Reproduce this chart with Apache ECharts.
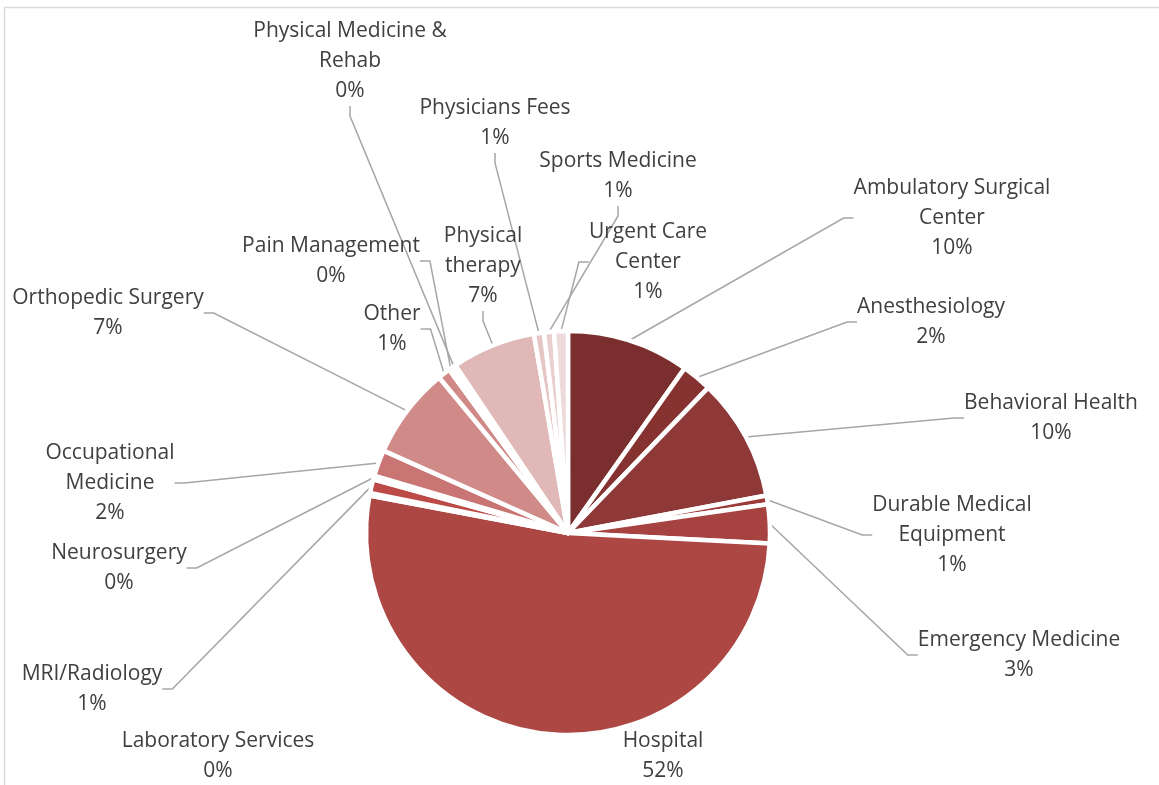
<!DOCTYPE html>
<html>
<head>
<meta charset="utf-8">
<script src="https://cdn.jsdelivr.net/npm/echarts@6/dist/echarts.min.js"></script>
<style>
  html, body { margin: 0; padding: 0; background: #fff; }
  #chart { width: 1159px; height: 785px; }
</style>
</head>
<body>
<div id="chart"></div>
<script>
// categories, clockwise from 12 o'clock
const categories = [
  'Ambulatory Surgical Center', 'Anesthesiology', 'Behavioral Health',
  'Durable Medical Equipment', 'Emergency Medicine', 'Hospital',
  'Laboratory Services', 'MRI/Radiology', 'Neurosurgery',
  'Occupational Medicine', 'Orthopedic Surgery', 'Other',
  'Pain Management', 'Physical Medicine & Rehab', 'Physical therapy',
  'Physicians Fees', 'Sports Medicine', 'Urgent Care Center'
];
// share of total (percent)
const shares = [9.8, 2.4, 9.8, 0.7, 3.1, 52.1, 0.2, 1.1, 0.3, 2.1, 7.3, 1.0, 0.3, 0.3, 6.7, 0.8, 0.8, 1.1];

const colors = [
  '#7b2e2e', '#853230', '#8e3838', '#9c3c3a', '#a64341', '#ad4744',
  '#b44a46', '#bc4b47', '#c46765', '#c97573', '#d08a88', '#d08986',
  '#d59896', '#daa5a4', '#e0b8b7', '#e5c6c5', '#e9d0cf', '#eddada'
];

// how label text wraps, like the original
const wrapped = {
  'Ambulatory Surgical Center': 'Ambulatory Surgical\nCenter',
  'Durable Medical Equipment': 'Durable Medical\nEquipment',
  'Occupational Medicine': 'Occupational\nMedicine',
  'Physical Medicine & Rehab': 'Physical Medicine &\nRehab',
  'Physical therapy': 'Physical\ntherapy',
  'Urgent Care Center': 'Urgent Care\nCenter'
};

// label block centres (layout only)
const labelAt = {
  'Ambulatory Surgical Center': [952, 218],
  'Anesthesiology': [931, 322],
  'Behavioral Health': [1051, 418],
  'Durable Medical Equipment': [952, 535],
  'Emergency Medicine': [1019, 655],
  'Hospital': [663, 756],
  'Laboratory Services': [218, 756],
  'MRI/Radiology': [92, 689],
  'Neurosurgery': [119, 568],
  'Occupational Medicine': [110, 483],
  'Orthopedic Surgery': [108, 313],
  'Other': [392, 329],
  'Pain Management': [331, 261],
  'Physical Medicine & Rehab': [350, 61],
  'Physical therapy': [483, 266],
  'Physicians Fees': [495, 123],
  'Sports Medicine': [618, 176],
  'Urgent Care Center': [648, 262]
};
const noLine = ['Hospital', 'Laboratory Services'];

const chart = echarts.init(document.getElementById('chart'), null, { renderer: 'canvas' });

chart.setOption({
  backgroundColor: '#fff',
  animation: false,
  graphic: [{
    type: 'rect',
    shape: { x: 4.5, y: 7.5, width: 1200, height: 900 },
    style: { fill: 'none', stroke: '#d9d9d9', lineWidth: 1.5 },
    silent: true
  }],
  series: [{
    type: 'pie',
    center: [568, 533],
    radius: 202,
    startAngle: 90,
    clockwise: true,
    avoidLabelOverlap: false,
    data: categories.map((name, i) => ({
      name: name,
      value: shares[i],
      itemStyle: { color: colors[i] },
      labelLine: { show: noLine.indexOf(name) < 0 }
    })),
    itemStyle: { borderColor: '#fff', borderWidth: 4.5 },
    label: {
      show: true,
      position: 'outside',
      color: '#404040',
      fontSize: 21,
      lineHeight: 30,
      fontFamily: '"Open Sans", sans-serif',
      align: 'center',
      formatter: (p) => (wrapped[p.name] || p.name) + '\n' + Math.round(p.percent) + '%'
    },
    labelLine: {
      show: true,
      length: 10,
      length2: 10,
      lineStyle: { color: '#a6a6a6', width: 1.5 }
    },
    labelLayout: (params) => {
      const name = categories[params.dataIndex];
      const pos = labelAt[name];
      return { x: pos[0], y: pos[1], align: 'center', verticalAlign: 'middle' };
    }
  }]
});
</script>
</body>
</html>
